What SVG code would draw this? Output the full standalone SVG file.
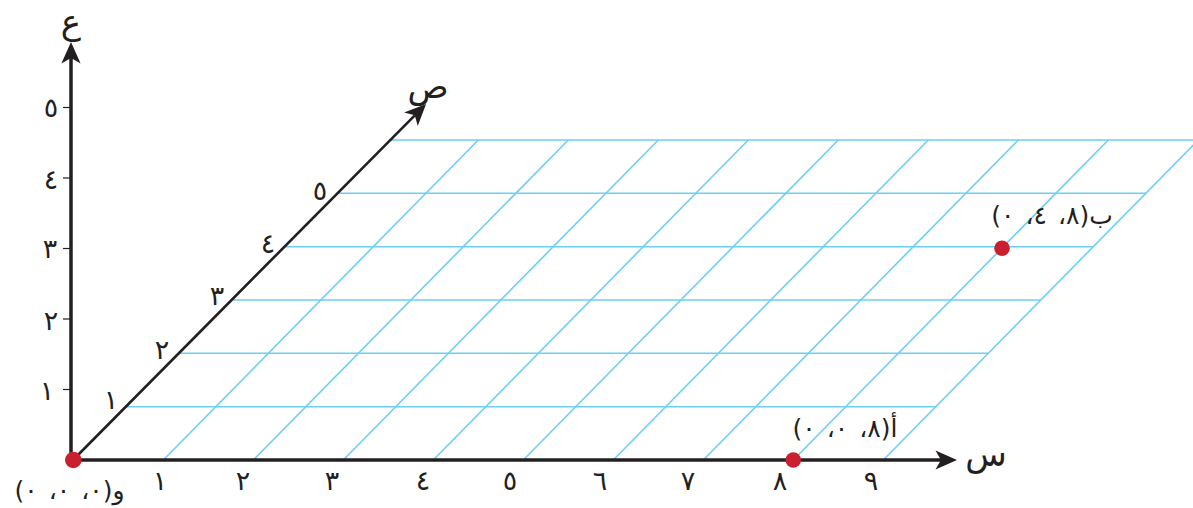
<svg xmlns="http://www.w3.org/2000/svg" width="1193" height="508" viewBox="0 0 1193 508">
<style>
.grid{stroke:#6dcff6;stroke-width:1.6;fill:none}
.axis{stroke:#231f20;fill:none}
.tick{stroke:#231f20;stroke-width:1.2}
.num{font-family:"DejaVu Sans",sans-serif;font-size:27px;fill:#231f20;text-anchor:middle}
.lbl{font-family:"DejaVu Sans",sans-serif;font-size:25px;fill:#231f20;text-anchor:middle;word-spacing:3px}
.ax{font-family:"DejaVu Sans",sans-serif;font-size:34px;fill:#231f20;text-anchor:middle}
.pt{fill:#c91f2e}
</style>
<defs>
<marker id="arr" markerUnits="userSpaceOnUse" markerWidth="24" markerHeight="22" viewBox="-22 -11 24 22" refX="-16" refY="0" orient="auto">
<path d="M0,0 L-21.5,-9.6 L-16,0 L-21.5,9.6 Z" fill="#231f20"/>
</marker>
</defs>
<rect width="1193" height="508" fill="#ffffff"/>
<g id="grid">
<line class="grid" x1="126" y1="406.7" x2="935.8" y2="406.7"/>
<line class="grid" x1="179" y1="353.3" x2="988.3" y2="353.3"/>
<line class="grid" x1="232" y1="300" x2="1040.8" y2="300"/>
<line class="grid" x1="285" y1="246.7" x2="1093.3" y2="246.7"/>
<line class="grid" x1="338" y1="193.3" x2="1145.8" y2="193.3"/>
<line class="grid" x1="390.5" y1="140" x2="1198.3" y2="140"/>
<line class="grid" x1="163.3" y1="460" x2="478.3" y2="140"/>
<line class="grid" x1="253.3" y1="460" x2="568.3" y2="140"/>
<line class="grid" x1="343.3" y1="460" x2="658.3" y2="140"/>
<line class="grid" x1="433.3" y1="460" x2="748.3" y2="140"/>
<line class="grid" x1="523.3" y1="460" x2="838.3" y2="140"/>
<line class="grid" x1="613.3" y1="460" x2="928.3" y2="140"/>
<line class="grid" x1="703.3" y1="460" x2="1018.3" y2="140"/>
<line class="grid" x1="793.3" y1="460" x2="1108.3" y2="140"/>
<line class="grid" x1="883.3" y1="460" x2="1198.3" y2="140"/>
</g>
<g id="connectors">
<line id="axis-x" class="axis" stroke-width="3.5" x1="71" y1="460" x2="941" y2="460" marker-end="url(#arr)"/>
<line id="axis-z" class="axis" stroke-width="3.5" x1="71" y1="461" x2="71" y2="58" marker-end="url(#arr)"/>
<line id="axis-y" class="axis" stroke-width="2.6" x1="73" y1="460" x2="414.8" y2="115.3" marker-end="url(#arr)"/>
<line class="tick" x1="63" y1="389.5" x2="71" y2="389.5"/>
<line class="tick" x1="63" y1="319" x2="71" y2="319"/>
<line class="tick" x1="63" y1="248.5" x2="71" y2="248.5"/>
<line class="tick" x1="63" y1="178" x2="71" y2="178"/>
<line class="tick" x1="63" y1="107.5" x2="71" y2="107.5"/>
</g>
<g id="axis-labels">
<text class="ax" x="71" y="34">ع</text>
<text class="ax" x="428" y="98">ص</text>
<text class="ax" x="986" y="466">س</text>
</g>
<g id="z-numbers">
<text class="num" x="51" y="117">٥</text>
<text class="num" x="51" y="189">٤</text>
<text class="num" x="50" y="258">٣</text>
<text class="num" x="51" y="330">٢</text>
<text class="num" x="47" y="400">١</text>
</g>
<g id="y-numbers">
<text class="num" x="111" y="409">١</text>
<text class="num" x="162" y="359">٢</text>
<text class="num" x="217" y="305">٣</text>
<text class="num" x="268" y="253">٤</text>
<text class="num" x="320" y="200">٥</text>
</g>
<g id="x-numbers">
<text class="num" x="160" y="490">١</text>
<text class="num" x="243" y="490">٢</text>
<text class="num" x="332" y="490">٣</text>
<text class="num" x="423" y="490">٤</text>
<text class="num" x="510" y="490">٥</text>
<text class="num" x="600" y="490">٦</text>
<text class="num" x="688" y="490">٧</text>
<text class="num" x="780" y="490">٨</text>
<text class="num" x="871" y="490">٩</text>
</g>
<g id="node-O">
<circle class="pt" cx="73.3" cy="460" r="8.3"/>
<text class="lbl" direction="rtl" x="69.5" y="499">و(٠، ٠، ٠)</text>
</g>
<g id="node-A">
<circle class="pt" cx="793.3" cy="460" r="7.8"/>
<text class="lbl" direction="rtl" x="845" y="437">أ(٨، ٠، ٠)</text>
</g>
<g id="node-B">
<circle class="pt" cx="1002" cy="248.3" r="7.8"/>
<text class="lbl" direction="rtl" x="1052" y="224">ب(٨، ٤، ٠)</text>
</g>
</svg>
